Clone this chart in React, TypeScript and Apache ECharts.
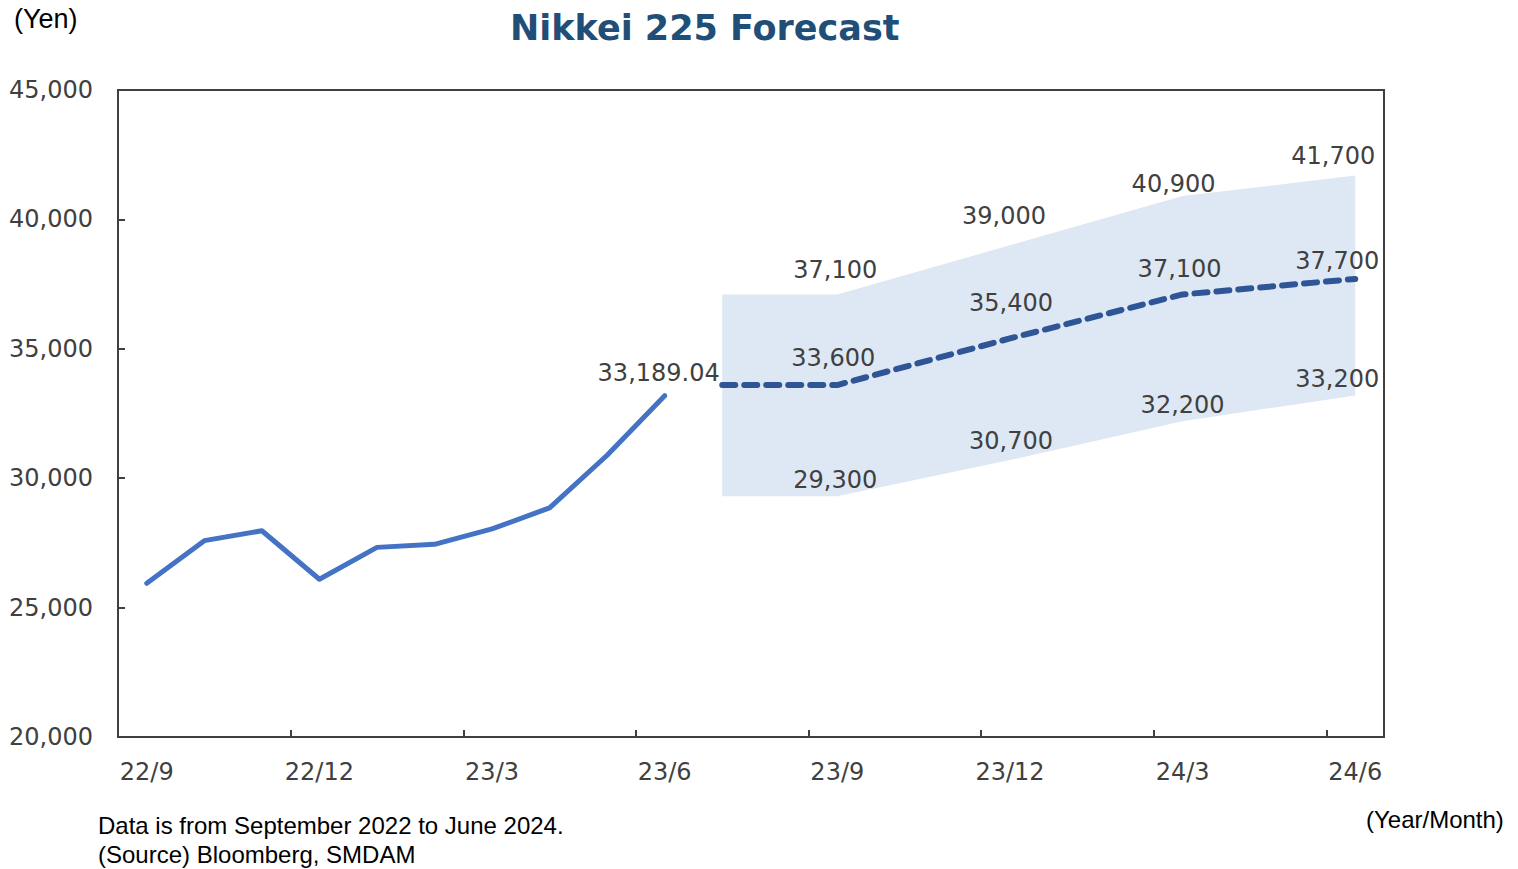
import React, { useEffect, useRef } from 'react';
import * as echarts from 'echarts';

const categories = [
  '22/9', '22/10', '22/11', '22/12',
  '23/1', '23/2', '23/3', '23/4', '23/5', '23/6', '23/7', '23/8', '23/9', '23/10', '23/11', '23/12',
  '24/1', '24/2', '24/3', '24/4', '24/5', '24/6',
];

const actual: (number | null)[] = [
  25937.21, 27587.46, 27968.99, 26094.5, 27327.11, 27445.56, 28041.48, 28856.44, 30887.88, 33189.04,
  null, null, null, null, null, null, null, null, null, null, null, null,
];

const forecastMid: (number | null)[] = [
  null, null, null, null, null, null, null, null, null, null,
  33600, null, 33600, null, null, 35400, null, null, 37100, null, null, 37700,
];

const forecastHigh: (number | null)[] = [
  null, null, null, null, null, null, null, null, null, null,
  37100, null, 37100, null, null, 39000, null, null, 40900, null, null, 41700,
];

const forecastLow: (number | null)[] = [
  null, null, null, null, null, null, null, null, null, null,
  29300, null, 29300, null, null, 30700, null, null, 32200, null, null, 33200,
];

const yMin = 20000;
const yMax = 45000;
const yStep = 5000;

const titleText = 'Nikkei 225 Forecast';
const yUnit = '(Yen)';
const xUnit = '(Year/Month)';
const footNotes = ['Data is from September 2022 to June 2024.', '(Source) Bloomberg, SMDAM'];

const fmt = (v: number) => v.toLocaleString('en-US', { maximumFractionDigits: 2 });

// label placement: [dx, distance above point]
const actualLabelPos: Record<number, [number, number]> = { 9: [-6, 24] };
const midLabelPos: Record<number, [number, number]> = { 12: [-4, 28], 15: [1, 36], 18: [-3, 26], 21: [-18, 19] };
const highLabelPos: Record<number, [number, number]> = { 12: [-2, 25], 15: [-6, 30], 18: [-9, 13], 21: [-22, 20] };
const lowLabelPos: Record<number, [number, number]> = { 12: [-2, 17], 15: [1, 20], 18: [0, 17], 21: [-18, 17] };

const NUM_FONT = 'DejaVu Sans';
const TXT_FONT = 'Liberation Sans, Arial, sans-serif';
const AXIS_COLOR = '#404040';

function buildData(arr: (number | null)[], pos: Record<number, [number, number]>) {
  return arr.map((v, i) => {
    if (v == null) return null;
    const p = pos[i];
    return {
      value: v,
      label: p
        ? { show: true, offset: [p[0], -(p[1] - 13.5)] }
        : { show: false },
    };
  });
}

const labelBase = {
  position: 'top' as const,
  distance: 0,
  fontSize: 24,
  lineHeight: 24,
  fontFamily: NUM_FONT,
  color: AXIS_COLOR,
  formatter: (p: any) => fmt(p.value),
};

export default function App() {
  const ref = useRef<HTMLDivElement>(null);

  useEffect(() => {
    if (!ref.current) return;
    const chart = echarts.init(ref.current, undefined, { renderer: 'svg' });

    const option: any = {
      animation: false,
      backgroundColor: '#ffffff',
      grid: {
        left: 118,
        right: 134,
        top: 90,
        bottom: 132,
        show: true,
        borderColor: AXIS_COLOR,
        borderWidth: 2,
        backgroundColor: 'transparent',
      },
      xAxis: {
        type: 'category',
        data: categories,
        boundaryGap: true,
        axisLine: { show: true, lineStyle: { color: AXIS_COLOR, width: 2 } },
        axisTick: { show: true, inside: true, length: 7, interval: 2, lineStyle: { color: AXIS_COLOR, width: 2 } },
        axisLabel: { interval: 2, margin: 23, fontSize: 24, fontFamily: NUM_FONT, color: AXIS_COLOR },
        splitLine: { show: false },
      },
      yAxis: {
        type: 'value',
        min: yMin,
        max: yMax,
        interval: yStep,
        axisLine: { show: true, lineStyle: { color: AXIS_COLOR, width: 2 } },
        axisTick: { show: true, inside: true, length: 7, lineStyle: { color: AXIS_COLOR, width: 2 } },
        axisLabel: { margin: 25, fontSize: 24, fontFamily: NUM_FONT, color: AXIS_COLOR, formatter: (v: number) => fmt(v) },
        splitLine: { show: false },
      },
      graphic: [
        {
          type: 'text',
          left: 510,
          top: 10,
          style: { text: titleText, font: `bold 35px ${NUM_FONT}`, fill: '#1F4E79' },
        },
        {
          type: 'text',
          left: 14,
          top: 5,
          style: { text: yUnit, font: `27px ${TXT_FONT}`, fill: '#000000' },
        },
        {
          type: 'text',
          left: 1366,
          top: 807,
          style: { text: xUnit, font: `24px ${TXT_FONT}`, fill: '#000000' },
        },
        {
          type: 'text',
          left: 98,
          top: 813,
          style: { text: footNotes[0], font: `24px ${TXT_FONT}`, fill: '#000000' },
        },
        {
          type: 'text',
          left: 98,
          top: 842,
          style: { text: footNotes[1], font: `24px ${TXT_FONT}`, fill: '#000000' },
        },
      ],
      series: [
        {
          type: 'custom',
          silent: true,
          z: 1,
          clip: true,
          renderItem: (_params: any, api: any) => {
            const top: number[][] = [];
            const bot: number[][] = [];
            forecastHigh.forEach((v, i) => {
              if (v != null) top.push(api.coord([i, v]));
            });
            forecastLow.forEach((v, i) => {
              if (v != null) bot.push(api.coord([i, v]));
            });
            return {
              type: 'polygon',
              shape: { points: top.concat(bot.reverse()) },
              style: { fill: '#DDE8F4' },
            };
          },
          data: [[10, 37100]],
        },
        {
          type: 'line',
          z: 3,
          silent: true,
          data: buildData(actual, actualLabelPos),
          symbol: 'circle',
          symbolSize: 1,
          itemStyle: { color: 'rgba(0,0,0,0)' },
          lineStyle: { color: '#4472C4', width: 5, cap: 'round', join: 'round' },
          label: labelBase,
          emphasis: { disabled: true },
        },
        {
          type: 'line',
          z: 3,
          silent: true,
          connectNulls: true,
          data: buildData(forecastMid, midLabelPos),
          symbol: 'circle',
          symbolSize: 1,
          itemStyle: { color: 'rgba(0,0,0,0)' },
          lineStyle: { color: '#2F5597', width: 6, type: [13, 9], cap: 'round', join: 'round' },
          label: labelBase,
          emphasis: { disabled: true },
        },
        {
          type: 'line',
          z: 2,
          silent: true,
          connectNulls: true,
          data: buildData(forecastHigh, highLabelPos),
          symbol: 'circle',
          symbolSize: 1,
          itemStyle: { color: 'rgba(0,0,0,0)' },
          lineStyle: { width: 0, opacity: 0 },
          label: labelBase,
          emphasis: { disabled: true },
        },
        {
          type: 'line',
          z: 2,
          silent: true,
          connectNulls: true,
          data: buildData(forecastLow, lowLabelPos),
          symbol: 'circle',
          symbolSize: 1,
          itemStyle: { color: 'rgba(0,0,0,0)' },
          lineStyle: { width: 0, opacity: 0 },
          label: labelBase,
          emphasis: { disabled: true },
        },
      ],
    };

    chart.setOption(option);
    return () => chart.dispose();
  }, []);

  return (
    <div
      ref={ref}
      style={{ position: 'absolute', left: 0, top: 0, width: 1518, height: 869, background: '#fff' }}
    />
  );
}
